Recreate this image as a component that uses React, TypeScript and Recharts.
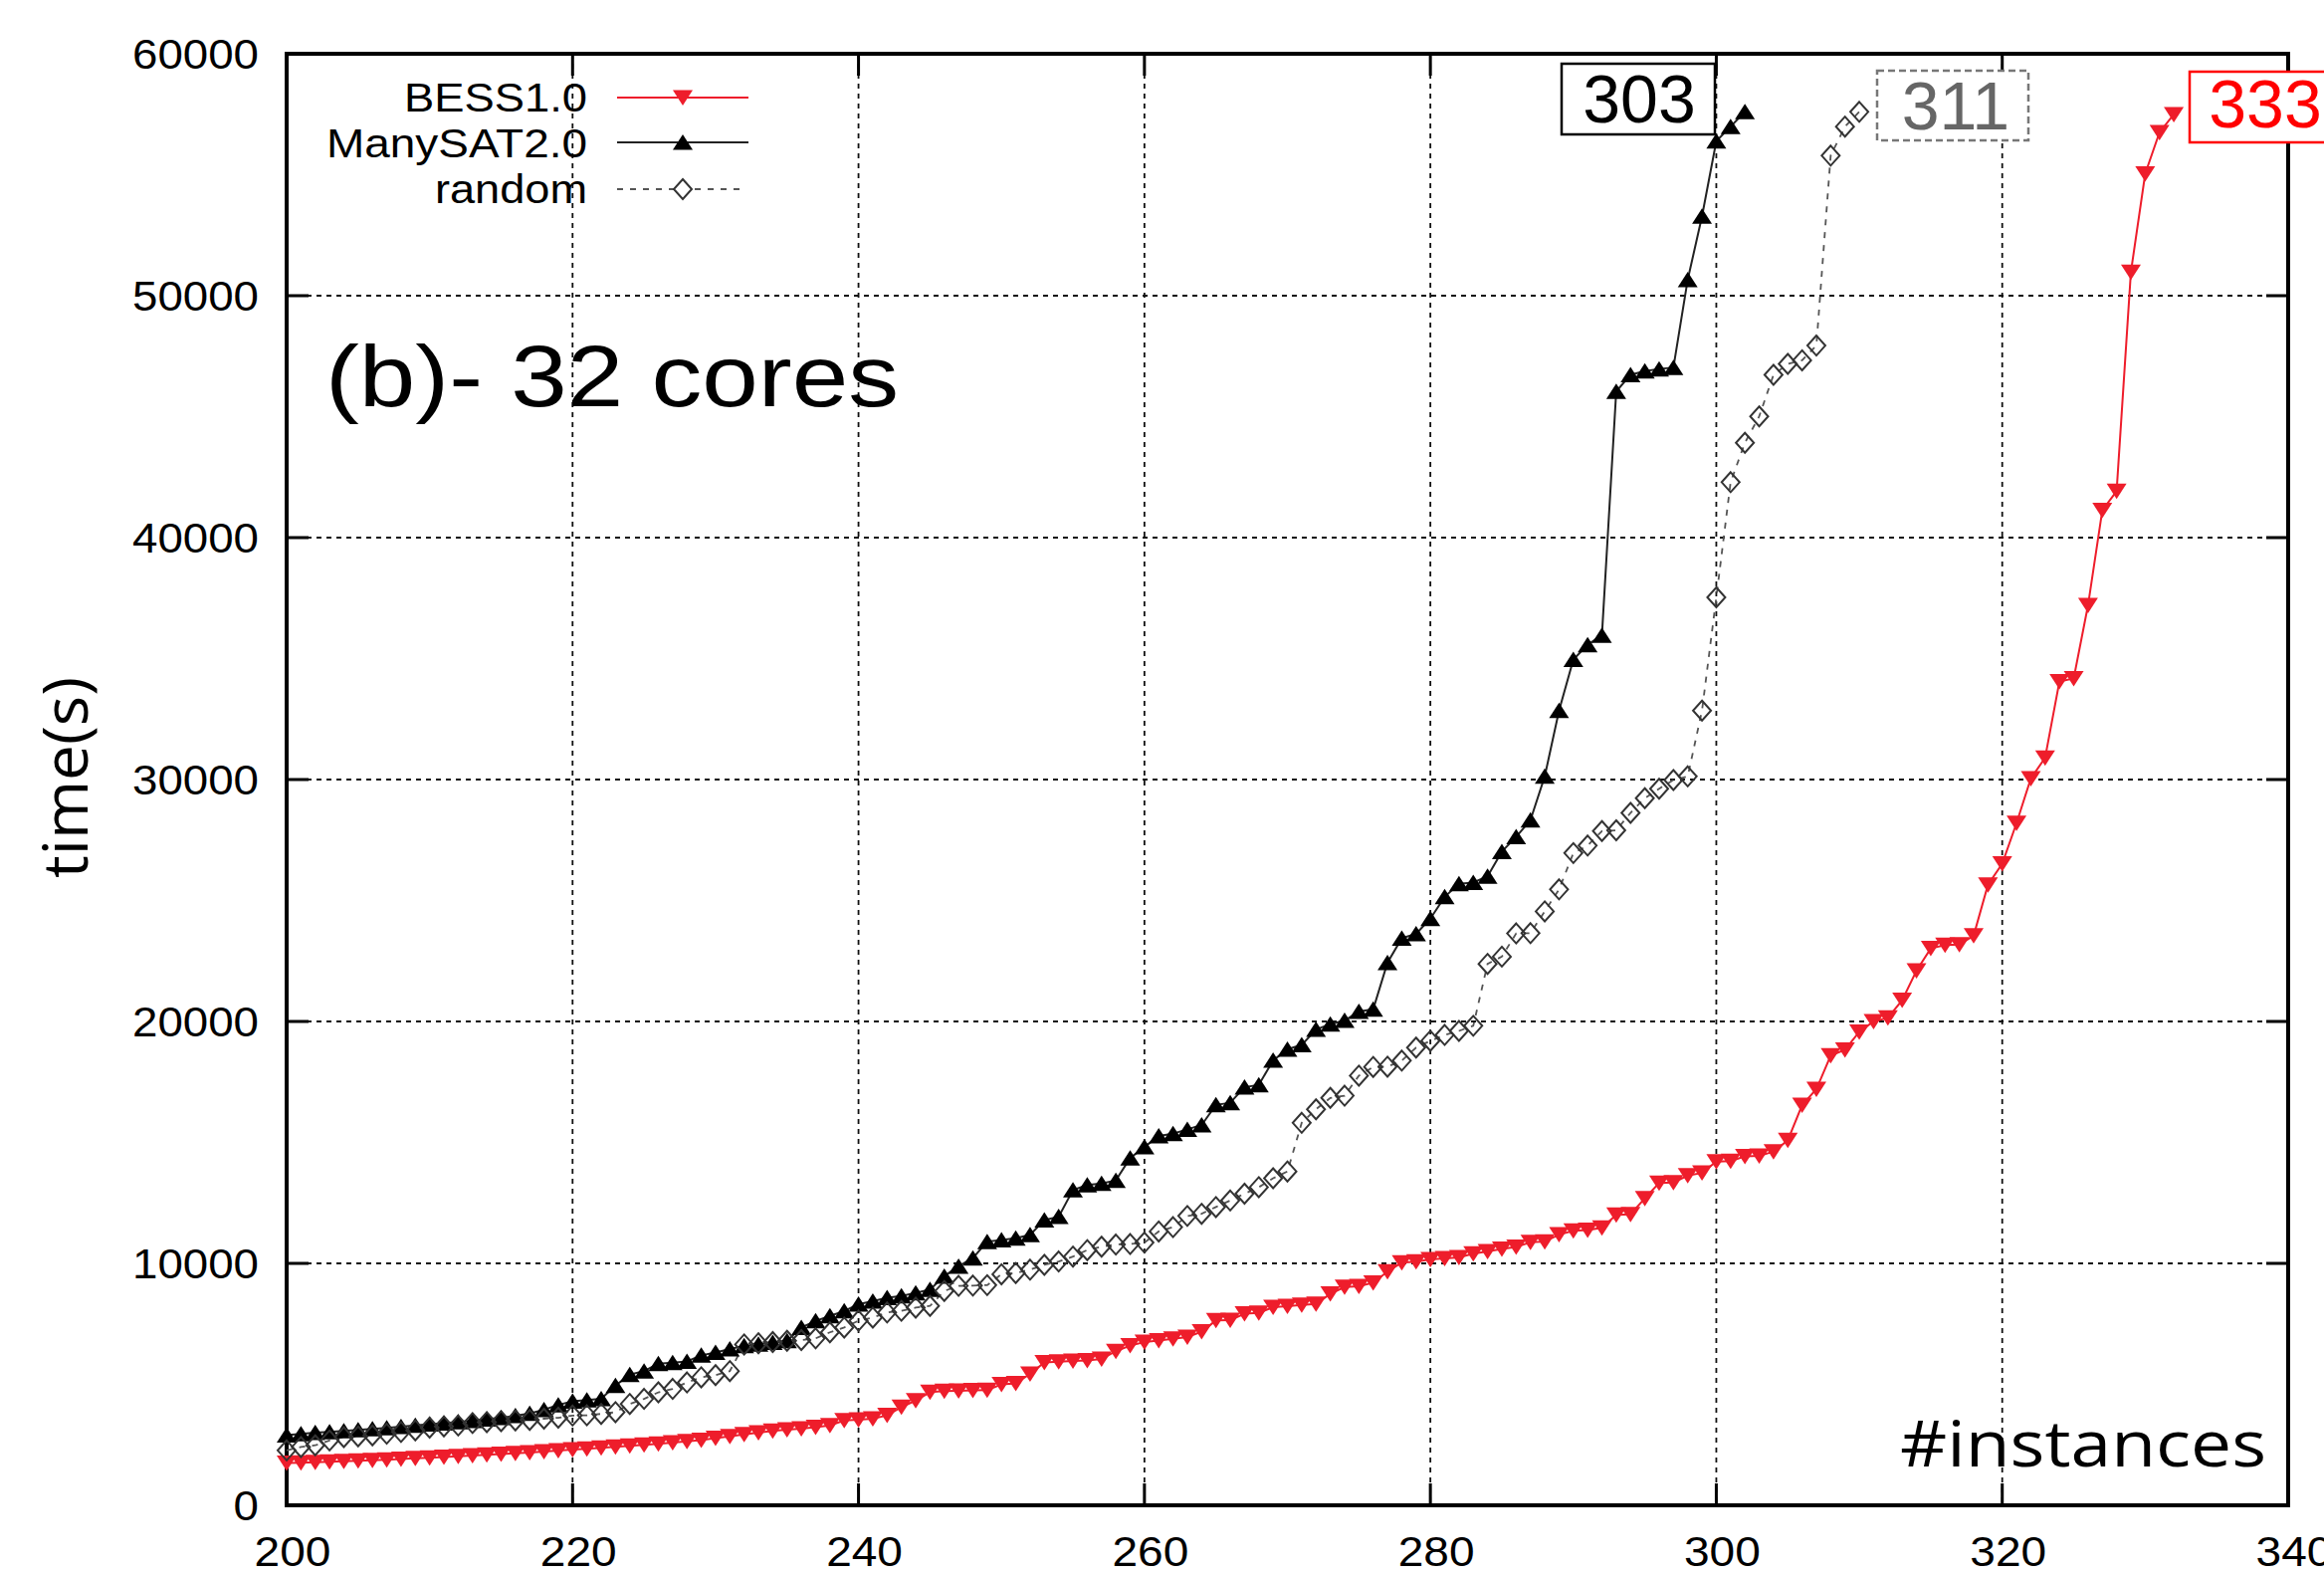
import { LineChart, Line, XAxis, YAxis, CartesianGrid, ReferenceArea } from "recharts";

const W = 2335;
const H = 1582;
// plot box in page pixels (left/top/right/bottom)
const PLOT = { left: 288, top: 54, right: 2299, bottom: 1512 };

const SANS = '"Liberation Sans", Arial, sans-serif';
const SOFT = '"Open Sans", "Noto Sans", sans-serif';
const RED = "#ee1d2b";

const X_TICKS = [200, 220, 240, 260, 280, 300, 320, 340];
const Y_TICKS = [0, 10000, 20000, 30000, 40000, 50000, 60000];

const FIRST_INSTANCE = 200;

// cumulative solve times (s), one value per instance from #200 on
const BESS_TIMES = [
  1750, 1760, 1780, 1800, 1820, 1840, 1860, 1880, 1910, 1940,
  1970, 2000, 2030, 2060, 2090, 2120, 2150, 2180, 2220, 2260,
  2300, 2340, 2380, 2420, 2460, 2500, 2540, 2590, 2640, 2700,
  2780, 2850, 2930, 3000, 3080, 3130, 3170, 3230, 3300, 3510,
  3540, 3580, 3720, 4060, 4330, 4680, 4720, 4730, 4750, 4760,
  5000, 5040, 5430, 5910, 5940, 5970, 5990, 6050, 6370, 6600,
  6750, 6810, 6880, 6950, 7180, 7640, 7650, 7920, 7950, 8190,
  8230, 8280, 8320, 8740, 9020, 9050, 9200, 9660, 10030, 10070,
  10160, 10210, 10250, 10400, 10490, 10600, 10680, 10870, 10900, 11190,
  11350, 11380, 11470, 12010, 12030, 12690, 13320, 13340, 13630, 13740,
  14210, 14230, 14420, 14440, 14620, 15090, 16540, 17200, 18590, 18830,
  19570, 20000, 20150, 20880, 22100, 23020, 23160, 23180, 23550, 25650,
  26520, 28200, 30040, 30900, 34050, 34180, 37200, 41130, 41920, 50980,
  55040, 56750, 57490,
];

const MANYSAT_TIMES = [
  2900, 2950, 3000, 3040, 3080, 3120, 3160, 3200, 3250, 3300,
  3350, 3400, 3450, 3500, 3560, 3620, 3700, 3800, 3950, 4150,
  4300, 4350, 4400, 4950, 5400, 5550, 5850, 5900, 5950, 6200,
  6320, 6460, 6590, 6660, 6730, 6800, 7350, 7620, 7830, 8030,
  8310, 8440, 8580, 8650, 8780, 8920, 9470, 9880, 10220, 10900,
  10970, 11040, 11180, 11790, 11930, 13030, 13240, 13300, 13430, 14350,
  14810, 15270, 15360, 15540, 15720, 16550, 16640, 17280, 17380, 18390,
  18850, 19030, 19670, 19890, 20040, 20410, 20500, 22430, 23440, 23620,
  24250, 25150, 25690, 25740, 26000, 27020, 27630, 28320, 30130, 32850,
  34960, 35570, 35960, 46040, 46730, 46880, 46970, 47030, 50660, 53280,
  56390, 56990, 57600,
];

const RANDOM_TIMES = [
  2270, 2410, 2480, 2680, 2820, 2850, 2890, 2960, 3030, 3100,
  3210, 3260, 3300, 3400, 3440, 3480, 3510, 3530, 3580, 3620,
  3710, 3720, 3780, 3850, 4190, 4400, 4670, 4810, 5080, 5290,
  5380, 5550, 6650, 6700, 6750, 6800, 6830, 6900, 7150, 7350,
  7630, 7760, 7970, 8040, 8170, 8240, 8860, 9070, 9080, 9100,
  9550, 9600, 9740, 9940, 10080, 10280, 10550, 10690, 10780, 10800,
  10860, 11320, 11500, 11960, 12050, 12330, 12600, 12880, 13150, 13520,
  13800, 15810, 16370, 16840, 16930, 17760, 18120, 18130, 18380, 18920,
  19200, 19440, 19610, 19820, 22380, 22680, 23640, 23650, 24550, 25460,
  26960, 27270, 27870, 27900, 28620, 29230, 29620, 29980, 30130, 32850,
  37530, 42290, 43920, 45010, 46730, 47180, 47330, 47940, 55790, 56990,
  57600,
];

const SERIES_NAMES = ["BESS1.0", "ManySAT2.0", "random"];
const SOLVED = { bess: 333, manysat: 303, random: 311 };

const toPoints = (times: number[]) => times.map((t, i) => ({ n: FIRST_INSTANCE + i, t }));
const bessData = toPoints(BESS_TIMES);
const manysatData = toPoints(MANYSAT_TIMES);
const randomData = toPoints(RANDOM_TIMES);

const downTri = (cx: number, cy: number) =>
  `M${cx - 10},${cy - 7.5}L${cx + 10},${cy - 7.5}L${cx},${cy + 8}Z`;
const upTri = (cx: number, cy: number) =>
  `M${cx - 10},${cy + 7.5}L${cx + 10},${cy + 7.5}L${cx},${cy - 8}Z`;
const diamond = (cx: number, cy: number) =>
  `M${cx},${cy - 10}L${cx + 9},${cy}L${cx},${cy + 10}L${cx - 9},${cy}Z`;

const BessDot = (p: any) => <path key={`b${p.index}`} d={downTri(p.cx, p.cy)} fill={RED} />;
const ManyDot = (p: any) => <path key={`m${p.index}`} d={upTri(p.cx, p.cy)} fill="#000" />;
const RandDot = (p: any) => (
  <path key={`r${p.index}`} d={diamond(p.cx, p.cy)} fill="none" stroke="#333" strokeWidth={2} />
);

function YTick(props: any) {
  const { x, y, payload } = props;
  const label = String(payload.value);
  return (
    <g>
      <line x1={x} x2={x + 22} y1={y} y2={y} stroke="#000" strokeWidth={3} />
      <line x1={PLOT.right - 22} x2={PLOT.right} y1={y} y2={y} stroke="#000" strokeWidth={3} />
      <text
        x={x - 28}
        y={y + 15}
        textAnchor="end"
        fontFamily={SANS}
        fontSize={42}
        fill="#000"
        textLength={label.length * 25.4}
        lengthAdjust="spacingAndGlyphs"
      >
        {label}
      </text>
    </g>
  );
}

function XTick(props: any) {
  const { x, y, payload } = props;
  const label = String(payload.value);
  return (
    <g>
      <line x1={x} x2={x} y1={y} y2={y - 22} stroke="#000" strokeWidth={3} />
      <line x1={x} x2={x} y1={PLOT.top} y2={PLOT.top + 22} stroke="#000" strokeWidth={3} />
      <text
        x={x + 6}
        y={1573}
        textAnchor="middle"
        fontFamily={SANS}
        fontSize={42}
        fill="#000"
        textLength={label.length * 25.6}
        lengthAdjust="spacingAndGlyphs"
      >
        {label}
      </text>
    </g>
  );
}

function Overlay() {
  return (
    <svg
      width={W}
      height={H}
      style={{ position: "absolute", left: 0, top: 0, pointerEvents: "none" }}
    >
      {/* legend */}
      <g fontFamily={SANS} fontSize={41} textAnchor="end" fill="#000">
        <text x={590} y={112} textLength={184} lengthAdjust="spacingAndGlyphs">{SERIES_NAMES[0]}</text>
        <text x={590} y={158} textLength={262} lengthAdjust="spacingAndGlyphs">{SERIES_NAMES[1]}</text>
        <text x={590} y={204} textLength={153} lengthAdjust="spacingAndGlyphs">{SERIES_NAMES[2]}</text>
      </g>
      <line x1={620} x2={752} y1={98} y2={98} stroke={RED} strokeWidth={2} />
      <path d={downTri(686, 98)} fill={RED} />
      <line x1={620} x2={752} y1={143} y2={143} stroke="#222" strokeWidth={2} />
      <path d={upTri(686, 143)} fill="#000" />
      <line x1={620} x2={750} y1={190} y2={190} stroke="#555" strokeWidth={2} strokeDasharray="6 7" />
      <path d={diamond(686, 190)} fill="#fff" stroke="#333" strokeWidth={2} />

      {/* panel caption */}
      <text
        x={327}
        y={408}
        fontFamily={SANS}
        fontSize={87}
        fill="#000"
        textLength={576}
        lengthAdjust="spacingAndGlyphs"
      >
        (b)- 32 cores
      </text>

      {/* axis titles */}
      <text
        transform="translate(64 781) rotate(-90)"
        textAnchor="middle"
        dominantBaseline="central"
        fontFamily={SOFT}
        fontSize={62}
        fill="#000"
        textLength={202}
        lengthAdjust="spacingAndGlyphs"
      >
        time(s)
      </text>
      <text
        x={1909}
        y={1473}
        fontFamily={SOFT}
        fontSize={64}
        fill="#000"
        textLength={368}
        lengthAdjust="spacingAndGlyphs"
      >
        #instances
      </text>

      {/* solved-count boxes */}
      <rect x={1569} y={64} width={154} height={71} fill="#fff" stroke="#000" strokeWidth={2.5} />
      <text x={1647} y={123} textAnchor="middle" fontFamily={SANS} fontSize={68} fill="#000">
        {SOLVED.manysat}
      </text>
      <rect
        x={1886}
        y={71}
        width={152}
        height={70}
        fill="#fff"
        stroke="#777"
        strokeWidth={2.5}
        strokeDasharray="7 4"
      />
      <text x={1965} y={130} textAnchor="middle" fontFamily={SANS} fontSize={68} fill="#666">
        {SOLVED.random}
      </text>
      <rect x={2200} y={72} width={160} height={71} fill="#fff" stroke="#f00" strokeWidth={2.5} />
      <text x={2276} y={128} textAnchor="middle" fontFamily={SANS} fontSize={68} fill="#f00">
        {SOLVED.bess}
      </text>
    </svg>
  );
}

export default function App() {
  return (
    <div
      style={{
        position: "absolute",
        left: 0,
        top: 0,
        width: W,
        height: H,
        background: "#fff",
        overflow: "hidden",
      }}
    >
      <LineChart
        width={W}
        height={H}
        margin={{ top: PLOT.top, right: W - PLOT.right, bottom: 40, left: PLOT.left - 100 }}
      >
        <CartesianGrid stroke="#111" strokeWidth={1.8} strokeDasharray="5 5" />
        <XAxis
          type="number"
          dataKey="n"
          domain={[200, 340]}
          ticks={X_TICKS}
          interval={0}
          height={30}
          axisLine={false}
          tickLine={false}
          tickSize={0}
          tickMargin={0}
          tick={<XTick />}
        />
        <YAxis
          type="number"
          dataKey="t"
          domain={[0, 60000]}
          ticks={Y_TICKS}
          interval={0}
          width={100}
          axisLine={false}
          tickLine={false}
          tickSize={0}
          tickMargin={0}
          tick={<YTick />}
        />
        <ReferenceArea
          x1={200}
          x2={340}
          y1={0}
          y2={60000}
          fill="none"
          fillOpacity={0}
          stroke="#000"
          strokeWidth={4}
          ifOverflow="visible"
        />
        <Line
          data={bessData}
          dataKey="t"
          type="linear"
          stroke={RED}
          strokeWidth={2}
          dot={BessDot}
          activeDot={false}
          isAnimationActive={false}
        />
        <Line
          data={manysatData}
          dataKey="t"
          type="linear"
          stroke="#222"
          strokeWidth={2}
          dot={ManyDot}
          activeDot={false}
          isAnimationActive={false}
        />
        <Line
          data={randomData}
          dataKey="t"
          type="linear"
          stroke="#555"
          strokeWidth={1.8}
          strokeDasharray="6 7"
          dot={RandDot}
          activeDot={false}
          isAnimationActive={false}
        />
      </LineChart>
      <Overlay />
    </div>
  );
}
